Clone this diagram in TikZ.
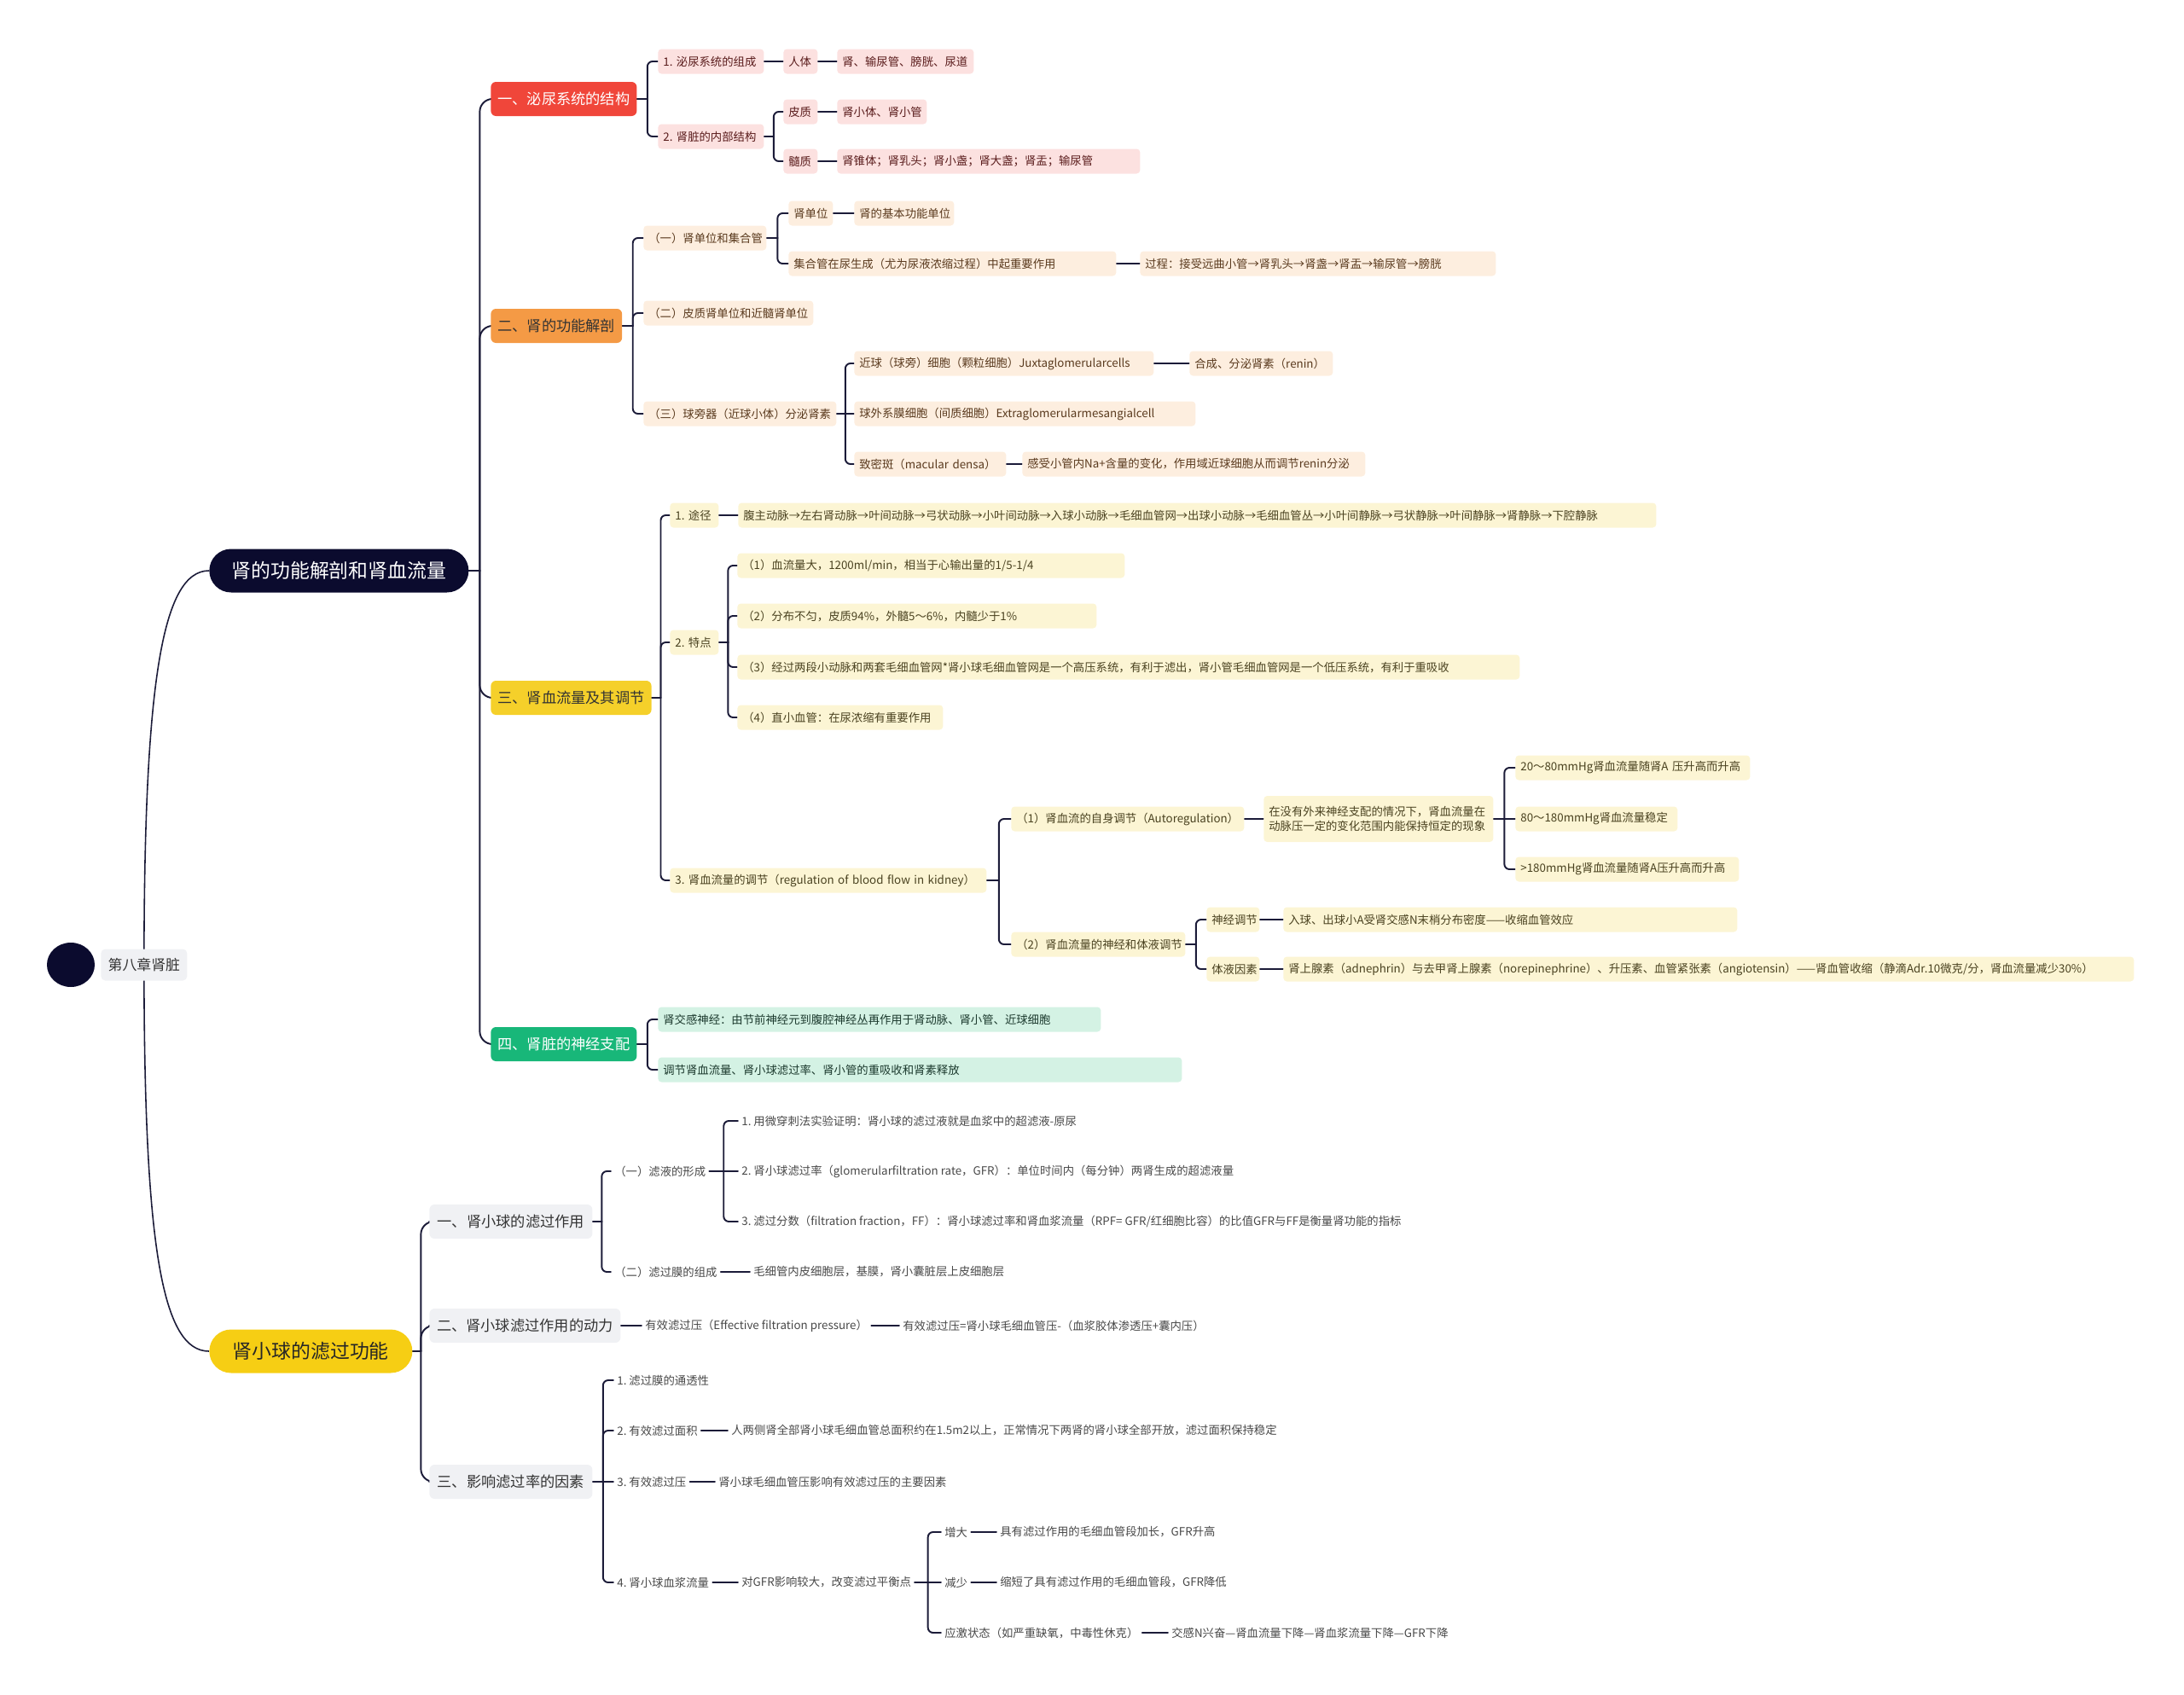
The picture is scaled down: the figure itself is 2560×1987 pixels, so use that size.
\documentclass[tikz,border=0pt]{standalone}
\usepackage{fontspec}
\setmainfont{Noto Sans CJK SC}
\usetikzlibrary{calc,backgrounds,shapes.geometric}
\frenchspacing

\definecolor{ink}{HTML}{1B1B38}
\definecolor{navy}{HTML}{0B0B2E}
\definecolor{redbox}{HTML}{F0463A}
\definecolor{orangebox}{HTML}{F49A45}
\definecolor{yellowbox}{HTML}{F5D02A}
\definecolor{greenbox}{HTML}{18B779}
\definecolor{mainyellow}{HTML}{F6CE14}
\definecolor{redpale}{HTML}{FCE1E0}
\definecolor{redtext}{HTML}{5A1C1C}
\definecolor{orpale}{HTML}{FDEEDF}
\definecolor{ortext}{HTML}{5A3A1E}
\definecolor{yelpale}{HTML}{FCF5D4}
\definecolor{yeltext}{HTML}{4A4220}
\definecolor{grnpale}{HTML}{D4F2E4}
\definecolor{grntext}{HTML}{1C3A2E}
\definecolor{greyfill}{HTML}{F0F1F4}
\definecolor{greytext}{HTML}{484848}

% parent -> children, short stub then a rounded elbow into each child
\newcommand{\fork}[3][1.2mm]{%
  \foreach \c in {#3}{%
    \draw[link] (#2.east) -- ($(#2.east)!.5!(#2.east -| \c.west)$) coordinate (fk);
    \draw[link,rounded corners=#1] (fk) |- (\c.west);
  }%
}

\begin{document}
\begin{tikzpicture}[x=0.2mm,y=-0.2mm,
  link/.style={draw=ink, line width=1.1pt, line cap=round},
  trunk/.style={draw=ink, line width=0.9pt},
  wd/.style={text width=#1*0.2mm-2.4mm, align=left},
  leaf/.style={anchor=west, rounded corners=0.8mm, inner xsep=1.2mm, inner ysep=0pt,
    minimum height=5.8mm, font=\fontsize{7.6}{10}\selectfont},
  redleaf/.style={leaf, fill=redpale, text=redtext},
  orleaf/.style={leaf, fill=orpale, text=ortext},
  yelleaf/.style={leaf, fill=yelpale, text=yeltext},
  grnleaf/.style={leaf, fill=grnpale, text=grntext},
  plain/.style={anchor=west, inner xsep=0.8mm, inner ysep=0pt, minimum height=5.8mm,
    font=\fontsize{7.6}{10}\selectfont, text=greytext},
  topic/.style={anchor=west, rounded corners=1.2mm, inner xsep=1.6mm, inner ysep=0pt,
    minimum height=8mm, font=\fontsize{9.8}{12}\selectfont},
  main/.style={anchor=west, rounded corners=5.1mm, inner ysep=0pt, minimum height=10.2mm,
    font=\fontsize{13}{15}\selectfont}]

\useasboundingbox (0,0) rectangle (2560,1987);

% root
\node[ellipse, fill=navy, minimum width=11.2mm, minimum height=10.4mm] (dot) at (83,1131) {};
\node[anchor=west, fill=greyfill, rounded corners=1mm, minimum height=7.4mm, minimum width=20.2mm,
  font=\fontsize{9.6}{12}\selectfont, text=black!80] (chap) at (118,1131) {第八章肾脏};

\node[main, fill=navy, text=white, minimum width=60.8mm] (m1) at (245,669) {肾的功能解剖和肾血流量};
\node[main, fill=mainyellow, text=black!85, minimum width=47.6mm] (m2) at (245,1584) {肾小球的滤过功能};

% sections of m1
\node[topic, fill=redbox, text=white, minimum width=34.2mm] (s1) at (575,116) {一、泌尿系统的结构};
\node[topic, fill=orangebox, text=black!80, minimum width=30.4mm] (s2) at (575,382) {二、肾的功能解剖};
\node[topic, fill=yellowbox, text=black!80, minimum width=37.4mm] (s3) at (575,818) {三、肾血流量及其调节};
\node[topic, fill=greenbox, text=white, minimum width=34.2mm] (s4) at (575,1224) {四、肾脏的神经支配};

% sections of m2
\node[topic, fill=greyfill, text=black!80, minimum width=38.2mm] (g1) at (503,1432) {一、肾小球的滤过作用};
\node[topic, fill=greyfill, text=black!80, minimum width=44.8mm] (g2) at (503,1554) {二、肾小球滤过作用的动力};
\node[topic, fill=greyfill, text=black!80, minimum width=38.2mm] (g3) at (503,1737) {三、影响滤过率的因素};

% section 1
\node[redleaf, wd=124] (a1) at (771,72) {1. 泌尿系统的组成};
\node[redleaf, wd=40] (a11) at (918,72) {人体};
\node[redleaf, wd=160] (a111) at (981,72) {肾、输尿管、膀胱、尿道};
\node[redleaf, wd=124] (a2) at (771,160) {2. 肾脏的内部结构};
\node[redleaf, wd=40] (a21) at (918,131) {皮质};
\node[redleaf, wd=105] (a211) at (981,131) {肾小体、肾小管};
\node[redleaf, wd=40] (a22) at (918,189) {髓质};
\node[redleaf, wd=355] (a221) at (981,189) {肾锥体；肾乳头；肾小盏；肾大盏；肾盂；输尿管};

% section 2
\node[orleaf, wd=144] (b1) at (754,279) {（一）肾单位和集合管};
\node[orleaf, wd=52] (b11) at (924,250) {肾单位};
\node[orleaf, wd=117] (b111) at (1001,250) {肾的基本功能单位};
\node[orleaf, wd=384] (b12) at (924,309) {集合管在尿生成（尤为尿液浓缩过程）中起重要作用};
\node[orleaf, wd=417] (b121) at (1336,309) {过程：接受远曲小管→肾乳头→肾盏→肾盂→输尿管→膀胱};
\node[orleaf, wd=199] (b2) at (754,367) {（二）皮质肾单位和近髓肾单位};
\node[orleaf, wd=226] (b3) at (754,485) {（三）球旁器（近球小体）分泌肾素};
\node[orleaf, wd=351] (b31) at (1001,426) {近球（球旁）细胞（颗粒细胞）Juxtaglomerularcells};
\node[orleaf, wd=168] (b311) at (1394,426) {合成、分泌肾素（renin）};
\node[orleaf, wd=400] (b32) at (1001,485) {球外系膜细胞（间质细胞）Extraglomerularmesangialcell};
\node[orleaf, wd=178] (b33) at (1001,544) {致密斑（macular densa）};
\node[orleaf, wd=402] (b331) at (1198,544) {感受小管内Na+含量的变化，作用域近球细胞从而调节renin分泌};

% section 3
\node[yelleaf, wd=57] (c1) at (785,604) {1. 途径};
\node[yelleaf, wd=1076] (c11) at (865,604) {腹主动脉→左右肾动脉→叶间动脉→弓状动脉→小叶间动脉→入球小动脉→毛细血管网→出球小动脉→毛细血管丛→小叶间静脉→弓状静脉→叶间静脉→肾静脉→下腔静脉};
\node[yelleaf, wd=57] (c2) at (785,753) {2. 特点};
\node[yelleaf, wd=454] (c21) at (864,663) {（1）血流量大，1200ml/min，相当于心输出量的1/5-1/4};
\node[yelleaf, wd=421] (c22) at (864,722) {（2）分布不匀，皮质94\%，外髓5～6\%，内髓少于1\%};
\node[yelleaf, wd=917] (c23) at (864,782) {（3）经过两段小动脉和两套毛细血管网*肾小球毛细血管网是一个高压系统，有利于滤出，肾小管毛细血管网是一个低压系统，有利于重吸收};
\node[yelleaf, wd=241] (c24) at (864,841) {（4）直小血管：在尿浓缩有重要作用};
\node[yelleaf, wd=371] (c3) at (785,1032) {3. 肾血流量的调节（regulation of blood flow in kidney）};
\node[yelleaf, wd=273] (c31) at (1185,960) {（1）肾血流的自身调节（Autoregulation）};
\node[yelleaf, wd=269, minimum height=10.8mm] (c311) at (1481,960)
  {在没有外来神经支配的情况下，肾血流量在\\动脉压一定的变化范围内能保持恒定的现象};
\node[yelleaf, wd=275] (c3111) at (1776,900) {20～80mmHg肾血流量随肾A 压升高而升高};
\node[yelleaf, wd=190] (c3112) at (1776,960) {80～180mmHg肾血流量稳定};
\node[yelleaf, wd=262] (c3113) at (1776,1019) {>180mmHg肾血流量随肾A压升高而升高};
\node[yelleaf, wd=204] (c32) at (1185,1107) {（2）肾血流量的神经和体液调节};
\node[yelleaf, wd=62] (c321) at (1414,1078) {神经调节};
\node[yelleaf, wd=532] (c3211) at (1504,1078) {入球、出球小A受肾交感N末梢分布密度——收缩血管效应};
\node[yelleaf, wd=62] (c322) at (1414,1136) {体液因素};
\node[yelleaf, wd=997] (c3221) at (1504,1136) {肾上腺素（adnephrin）与去甲肾上腺素（norepinephrine）、升压素、血管紧张素（angiotensin）——肾血管收缩（静滴Adr.10微克/分，肾血流量减少30\%）};

% section 4
\node[grnleaf, wd=519] (d1) at (771,1195) {肾交感神经：由节前神经元到腹腔神经丛再作用于肾动脉、肾小管、近球细胞};
\node[grnleaf, wd=614] (d2) at (771,1254) {调节肾血流量、肾小球滤过率、肾小管的重吸收和肾素释放};

% filtration
\node[plain] (e1) at (716,1373) {（一）滤液的形成};
\node[plain] (e11) at (865,1314) {1. 用微穿刺法实验证明：肾小球的滤过液就是血浆中的超滤液-原尿};
\node[plain] (e12) at (865,1373) {2. 肾小球滤过率（glomerularfiltration rate，GFR）：单位时间内（每分钟）两肾生成的超滤液量};
\node[plain] (e13) at (865,1432) {3. 滤过分数（filtration fraction，FF）：肾小球滤过率和肾血浆流量（RPF= GFR/红细胞比容）的比值GFR与FF是衡量肾功能的指标};
\node[plain] (e2) at (716,1491) {（二）滤过膜的组成};
\node[plain] (e21) at (879,1491) {毛细管内皮细胞层，基膜，肾小囊脏层上皮细胞层};

\node[plain] (f1) at (752,1554) {有效滤过压（Effective filtration pressure）};
\node[plain] (f11) at (1054,1554) {有效滤过压=肾小球毛细血管压-（血浆胶体渗透压+囊内压）};

\node[plain] (h1) at (719,1618) {1. 滤过膜的通透性};
\node[plain] (h2) at (719,1677) {2. 有效滤过面积};
\node[plain] (h21) at (853,1677) {人两侧肾全部肾小球毛细血管总面积约在1.5m2以上，正常情况下两肾的肾小球全部开放，滤过面积保持稳定};
\node[plain] (h3) at (719,1737) {3. 有效滤过压};
\node[plain] (h31) at (838,1737) {肾小球毛细血管压影响有效滤过压的主要因素};
\node[plain] (h4) at (719,1855) {4. 肾小球血浆流量};
\node[plain] (h41) at (865,1855) {对GFR影响较大，改变滤过平衡点};
\node[plain] (h411) at (1103,1796) {增大};
\node[plain] (h4111) at (1168,1796) {具有滤过作用的毛细血管段加长，GFR升高};
\node[plain] (h412) at (1103,1855) {减少};
\node[plain] (h4121) at (1168,1855) {缩短了具有滤过作用的毛细血管段，GFR降低};
\node[plain] (h413) at (1103,1914) {应激状态（如严重缺氧，中毒性休克）};
\node[plain] (h4131) at (1369,1914) {交感N兴奋—肾血流量下降—肾血浆流量下降—GFR下降};

\begin{scope}[on background layer]
  \draw[trunk] (chap.center) .. controls +(0,-330) and +(-55,0) .. (m1.west);
  \draw[trunk] (chap.center) .. controls +(0,330) and +(-55,0) .. (m2.west);
  \fork[3mm]{m1}{s1,s2,s3,s4}
  \fork[3mm]{m2}{g1,g2,g3}
  \fork{s1}{a1,a2}
  \fork{a2}{a21,a22}
  \fork{s2}{b1,b2,b3}
  \fork{b1}{b11,b12}
  \fork{b3}{b31,b33}
  \fork{s3}{c1,c2,c3}
  \fork{c2}{c21,c22,c23,c24}
  \fork{c3}{c31,c32}
  \fork{c311}{c3111,c3113}
  \fork{c32}{c321,c322}
  \fork{s4}{d1,d2}
  \fork{g1}{e1,e2}
  \fork{e1}{e11,e13}
  \fork{g3}{h1,h2,h4}
  \fork{h41}{h411,h413}
  % straight links, child level with parent
  \foreach \p/\c in {a1/a11, a11/a111, a21/a211, a22/a221, b11/b111, b12/b121,
      b3/b32, b31/b311, b33/b331, c1/c11, c31/c311, c311/c3112, c321/c3211,
      c322/c3221, e1/e12, e2/e21, g2/f1, f1/f11, g3/h3, h2/h21, h3/h31,
      h4/h41, h41/h412, h411/h4111, h412/h4121, h413/h4131}
    \draw[link] (\p.east) -- (\c.west);
\end{scope}
\end{tikzpicture}
\end{document}
